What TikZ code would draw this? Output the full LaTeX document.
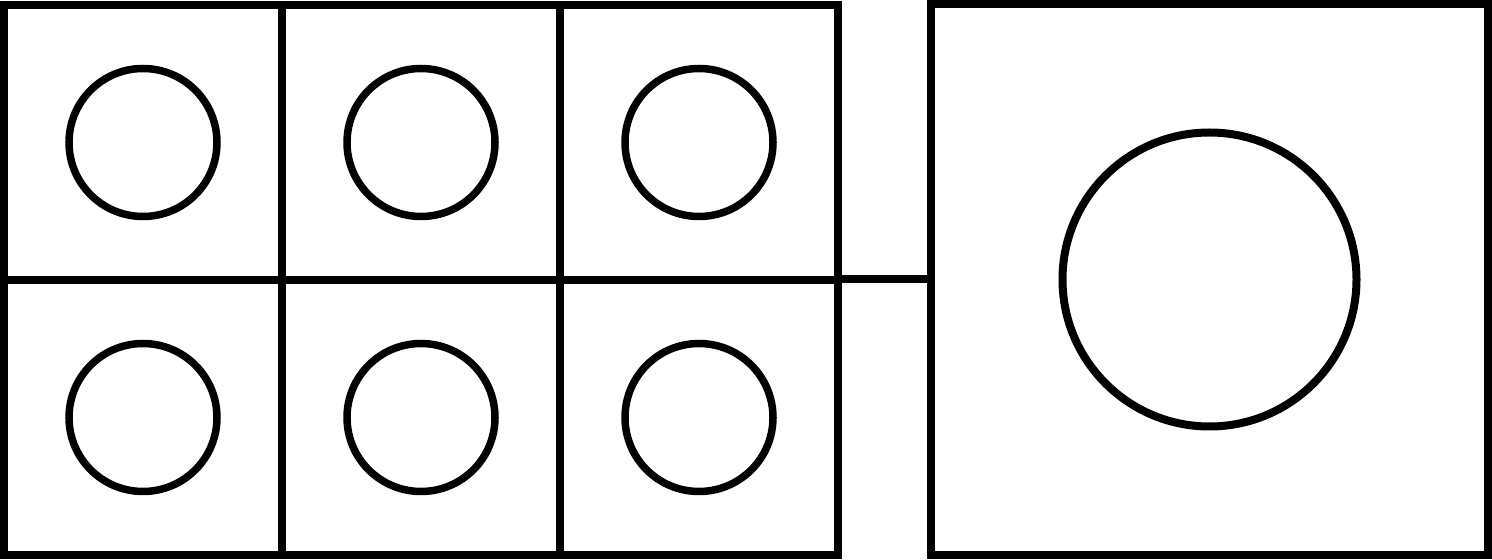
\documentclass[tikz,border=0pt]{standalone}
\begin{document}
\begin{tikzpicture}[
    cell/.style={draw, line width=0.08cm, minimum width=2.78cm, minimum height=2.75cm, inner sep=0pt},
    dot/.style={draw, circle, line width=0.075cm, minimum size=1.48cm, inner sep=0pt},
    bigbox/.style={draw, line width=0.08cm, minimum width=5.57cm, minimum height=5.51cm, inner sep=0pt},
    bigdot/.style={draw, circle, line width=0.08cm, minimum size=2.94cm, inner sep=0pt}]
    \useasboundingbox (0,0) rectangle (14.92,5.6);
    \node[cell] (c00) at (1.43,4.175) {};
    \node[cell] (c01) at (4.21,4.175) {};
    \node[cell] (c02) at (6.99,4.175) {};
    \node[cell] (c10) at (1.43,1.425) {};
    \node[cell] (c11) at (4.21,1.425) {};
    \node[cell] (c12) at (6.99,1.425) {};
    \node[dot] (d00) at (c00.center) {};
    \node[dot] (d01) at (c01.center) {};
    \node[dot] (d02) at (c02.center) {};
    \node[dot] (d10) at (c10.center) {};
    \node[dot] (d11) at (c11.center) {};
    \node[dot] (d12) at (c12.center) {};

    \node[bigbox] (box) at (12.095,2.805) {};
    \node[bigdot] (big) at (box.center) {};
    \draw [line width=0.08cm] (box.west -| c02.south east) to (box.west);
\end{tikzpicture}
\end{document}
